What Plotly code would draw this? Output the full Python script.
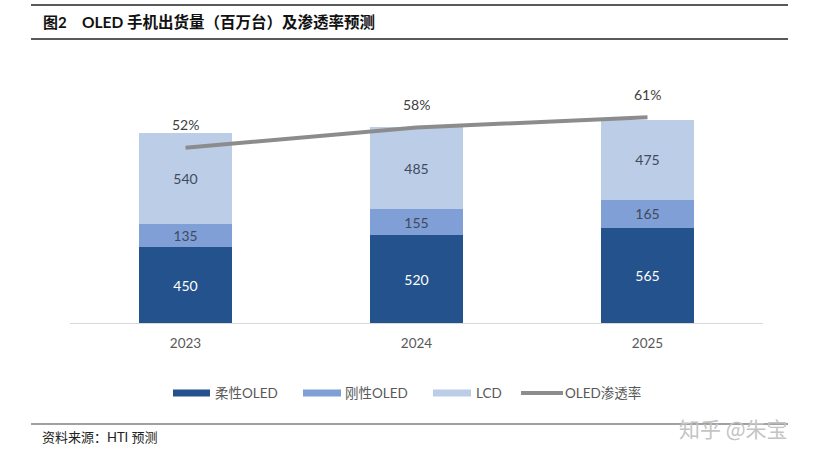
import plotly.graph_objects as go

# ---- data ----
years = ["2023", "2024", "2025"]
flexible_oled = [450, 520, 565]
rigid_oled = [135, 155, 165]
lcd = [540, 485, 475]
penetration = [52, 58, 61]
pen_labels = ["52%", "58%", "61%"]
series_names = ["柔性OLED", "刚性OLED", "LCD", "OLED渗透率"]

colors = ["#24528c", "#7f9fd6", "#bccde8", "#8c8c8c"]
label_colors = ["#ffffff", "#3f4a5c", "#3f4a5c"]

FONT = "Lato, 'Noto Sans CJK SC', sans-serif"
CJK = "'Noto Sans CJK SC', sans-serif"

W, H = 818, 460
L, R, T, B = 70, 55, 87, 137
pw = W - L - R
ph = H - T - B


def px(x):
    return (x - L) / pw


def py(y):
    return (H - B - y) / ph


fig = go.Figure()
for name, vals, c, lc in zip(series_names[:3], [flexible_oled, rigid_oled, lcd], colors[:3], label_colors):
    fig.add_trace(go.Bar(
        x=years, y=vals, name=name, marker=dict(color=c, line=dict(width=0)),
        text=vals, texttemplate="%{text}", textposition="inside",
        insidetextanchor="middle", textangle=0,
        textfont=dict(color=lc, size=14, family=FONT),
        showlegend=False, hoverinfo="skip",
    ))

fig.add_trace(go.Scatter(
    x=years, y=penetration, name=series_names[3], yaxis="y2", mode="lines",
    line=dict(color=colors[3], width=4), showlegend=False, hoverinfo="skip",
))

annotations = []
for i, (v, t) in enumerate(zip(penetration, pen_labels)):
    annotations.append(dict(x=i, y=v, xref="x", yref="y2", text=t, showarrow=False,
                            yshift=23, font=dict(size=14, color="#404040", family=FONT)))

# title
annotations.append(dict(x=px(41), y=py(22), xref="paper", yref="paper", xanchor="left", yanchor="middle",
                        text="<b>图2</b>", showarrow=False, font=dict(size=15, color="#111111", family=FONT)))
annotations.append(dict(x=px(80), y=py(22), xref="paper", yref="paper", xanchor="left", yanchor="middle",
                        text="<b>OLED 手机出货量（百万台）及渗透率预测</b>", showarrow=False,
                        font=dict(size=15.5, color="#111111", family=FONT)))
# footer
annotations.append(dict(x=px(40), y=py(437), xref="paper", yref="paper", xanchor="left", yanchor="middle",
                        text="资料来源：HTI 预测", showarrow=False,
                        font=dict(size=13, color="#222222", family=FONT)))
# watermark
annotations.append(dict(x=px(733), y=py(428), xref="paper", yref="paper", xanchor="center", yanchor="middle",
                        text="知乎 @朱宝", showarrow=False,
                        font=dict(size=21, color="#c4c4c4", family=CJK)))

shapes = [
    dict(type="line", xref="paper", yref="paper", x0=px(31), x1=px(788), y0=py(5), y1=py(5),
         line=dict(color="#222222", width=1.5)),
    dict(type="line", xref="paper", yref="paper", x0=px(31), x1=px(788), y0=py(39), y1=py(39),
         line=dict(color="#222222", width=1.5)),
    dict(type="line", xref="paper", yref="paper", x0=px(31), x1=px(788), y0=py(424), y1=py(424),
         line=dict(color="#444444", width=1.2)),
]

# manual legend
leg_y = 393
swatches = [(173, 210, 213), (303, 341, 343), (433, 471, 474)]
for (x0, x1, tx), c, name in zip(swatches, colors[:3], series_names[:3]):
    shapes.append(dict(type="rect", xref="paper", yref="paper", x0=px(x0), x1=px(x1),
                       y0=py(leg_y + 3.5), y1=py(leg_y - 3.5), fillcolor=c, line=dict(width=0)))
    annotations.append(dict(x=px(tx), y=py(leg_y), xref="paper", yref="paper", xanchor="left", yanchor="middle",
                            text=name, showarrow=False, font=dict(size=13.5, color="#595959", family=FONT)))
shapes.append(dict(type="line", xref="paper", yref="paper", x0=px(521), x1=px(563), y0=py(leg_y), y1=py(leg_y),
                   line=dict(color=colors[3], width=4)))
annotations.append(dict(x=px(563), y=py(leg_y), xref="paper", yref="paper", xanchor="left", yanchor="middle",
                        text=series_names[3], showarrow=False, font=dict(size=13.5, color="#595959", family=FONT)))

fig.update_layout(
    width=W, height=H,
    margin=dict(l=L, r=R, t=T, b=B, autoexpand=False),
    paper_bgcolor="white", plot_bgcolor="white",
    barmode="stack", bargap=0.6,
    xaxis=dict(type="category", range=[-0.5, len(years) - 0.5], showline=True, linecolor="#d9d9d9",
               linewidth=1, showgrid=False, ticks="", ticklabelstandoff=8,
               tickfont=dict(size=13.5, color="#595959", family=FONT), fixedrange=True),
    yaxis=dict(range=[0, 1400], visible=False, showgrid=False, fixedrange=True),
    yaxis2=dict(range=[0, 70], overlaying="y", side="right", visible=False, showgrid=False),
    annotations=annotations, shapes=shapes,
    showlegend=False,
)

fig.write_html("out.html", config={"displayModeBar": False},
               post_script="document.body.style.margin='0';document.body.style.padding='0';")
